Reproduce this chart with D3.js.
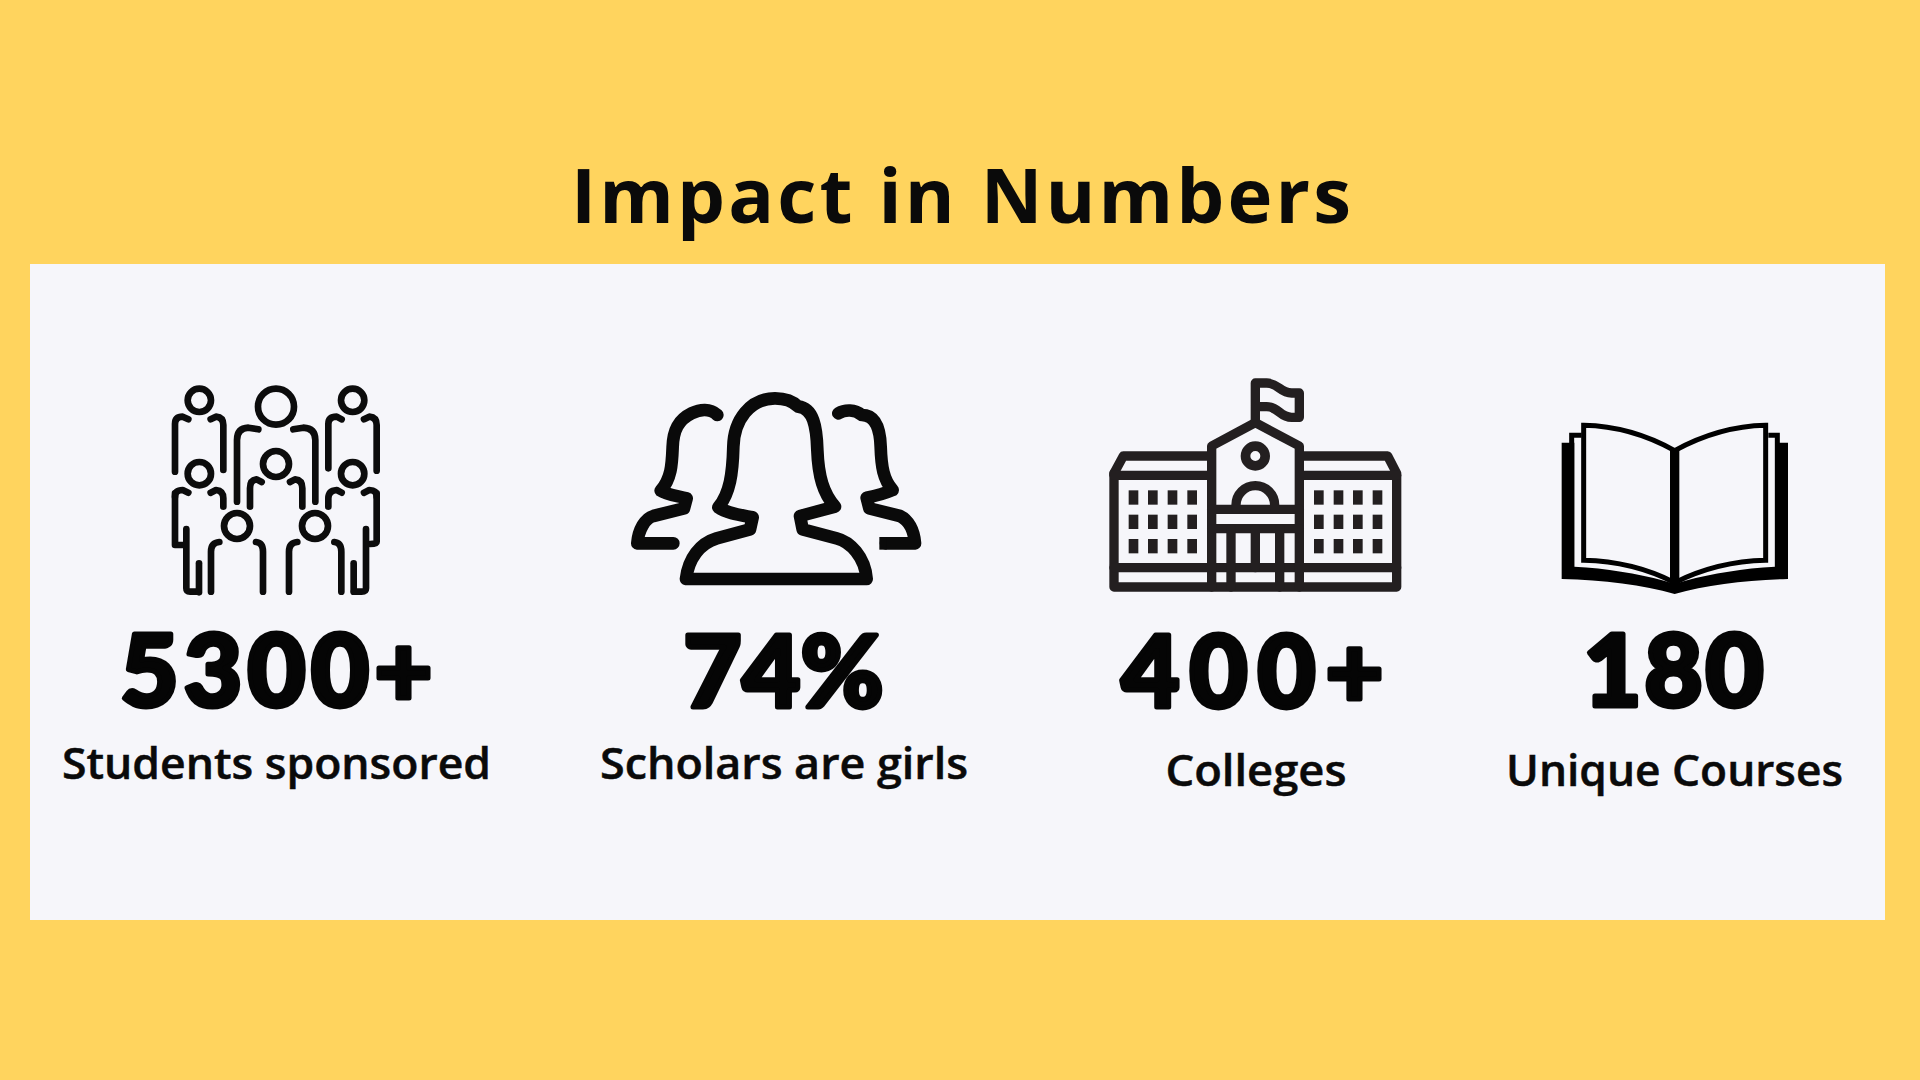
<!DOCTYPE html>
<html>
<head>
<meta charset="utf-8">
<script src="https://cdn.jsdelivr.net/npm/d3@7"></script>
<style>
  html, body { margin: 0; padding: 0; background: #ffd45e; }
  svg { display: block; }
</style>
</head>
<body>
<div id="vis"></div>
<script>
// chart content
const chartTitle = 'Impact in Numbers';
const categories = ['Students sponsored', 'Scholars are girls', 'Colleges', 'Unique Courses'];
const values = ['5300+', '74%', '400+', '180'];

// layout
const width = 1920, height = 1080;
const valueX = d3.scaleOrdinal(categories, [276.5, 783.5, 1252.5, 1673.5]);
const valueY = d3.scaleOrdinal(categories, [708, 709, 709, 708]);
const valueLen = d3.scaleOrdinal(categories, [312, 200, 262, 180]);
const labelX = d3.scaleOrdinal(categories, [276.5, 784, 1256, 1674.5]);
const labelY = d3.scaleOrdinal(categories, [779, 779, 786, 786]);
const labelLen = d3.scaleOrdinal(categories, [429, 368, 181, 337]);

const svg = d3.select('#vis')
  .append('svg')
  .attr('width', width)
  .attr('height', height)
  .attr('viewBox', [0, 0, width, height].join(' '));

svg.append('rect').attr('width', width).attr('height', height).attr('fill', '#ffd45e');
svg.append('rect').attr('x', 30).attr('y', 264).attr('width', 1855).attr('height', 656).attr('fill', '#f6f6fa');

svg.append('text')
  .attr('x', 961)
  .attr('y', 223)
  .attr('text-anchor', 'middle')
  .attr('font-family', 'Open Sans')
  .attr('font-weight', 700)
  .attr('font-size', 76)
  .attr('textLength', 780)
  .attr('lengthAdjust', 'spacing')
  .attr('fill', '#0a0a0a')
  .text(chartTitle);

svg.selectAll('text.value')
  .data(categories)
  .join('text')
  .attr('class', 'value')
  .attr('x', d => valueX(d))
  .attr('y', d => valueY(d) - 2)
  .attr('text-anchor', 'middle')
  .attr('font-family', 'Lato')
  .attr('font-weight', 900)
  .attr('font-size', 100)
  .attr('textLength', d => valueLen(d))
  .attr('lengthAdjust', 'spacing')
  .attr('fill', '#050505')
  .attr('stroke', '#050505')
  .attr('stroke-width', 5)
  .attr('stroke-linejoin', 'round')
  .text((d, i) => values[i]);

svg.selectAll('text.label')
  .data(categories)
  .join('text')
  .attr('class', 'label')
  .attr('x', d => labelX(d))
  .attr('y', d => labelY(d))
  .attr('text-anchor', 'middle')
  .attr('font-family', 'Open Sans')
  .attr('font-weight', 600)
  .attr('font-size', 44)
  .attr('textLength', d => labelLen(d))
  .attr('lengthAdjust', 'spacingAndGlyphs')
  .attr('fill', '#0a0a0a')
  .attr('stroke', '#0a0a0a')
  .attr('stroke-width', 0.5)
  .text(d => d);

// icons are drawn in the pixel space of a 3x crop, hence the scale(1/3)
function icon(x, y, color, sw) {
  return svg.append('g')
    .attr('transform', `translate(${x},${y}) scale(${1 / 3})`)
    .attr('fill', 'none')
    .attr('stroke', color)
    .attr('stroke-width', sw)
    .attr('stroke-linecap', 'round')
    .attr('stroke-linejoin', 'round');
}

// people
const heads = [[178, 121, 35], [408, 140, 54], [638, 121, 35], [408, 312, 39],
  [178, 341, 35], [638, 341, 35], [291, 498, 39], [525, 498, 39]];
const bodies = [
  'M105 335 V192 Q105 170 128 170 L145 178',
  'M250 330 V195 Q250 172 228 170 L212 178',
  'M565 325 V192 Q565 170 590 170 L605 178',
  'M710 332 V195 Q710 172 688 170 L672 178',
  'M291 425 V240 Q291 205 325 203 L355 208',
  'M526 425 V240 Q526 205 490 203 L460 208',
  'M330 440 V385 Q330 360 350 358 L365 366',
  'M487 440 V385 Q487 360 465 358 L450 366',
  'M105 400 V555 H130',
  'M105 410 Q105 390 128 390 L145 398',
  'M250 440 V415 Q250 392 228 390 L212 398',
  'M139 507 V685 Q139 695 150 695 H176',
  'M177 610 V697',
  'M565 440 V415 Q565 392 590 390 L605 398',
  'M710 410 Q710 390 688 390 L672 398',
  'M710 400 V545 Q710 552 690 552',
  'M678 507 V685 Q678 695 665 695 H642',
  'M641 610 V695',
  'M213 695 V575 Q213 548 238 546',
  'M369 695 V575 Q369 548 348 546',
  'M447 695 V575 Q447 548 472 546',
  'M604 695 V575 Q604 548 583 546'
];
const people = icon(140, 360, '#0c0c0c', 20);
people.selectAll('circle').data(heads).join('circle')
  .attr('cx', d => d[0]).attr('cy', d => d[1]).attr('r', d => d[2]);
people.selectAll('path').data(bodies).join('path').attr('d', d => d);

// girls
const girls = [
  'M228 627 H770 C765 560 720 515 680 505 L578 478 L570 438 L675 410 C640 370 625 320 622 240 C620 170 610 115 565 110 C545 90 520 85 495 85 C420 85 372 150 370 230 C368 310 360 370 325 412 C350 430 390 435 428 442 L420 478 L320 505 C270 520 235 565 228 627 Z',
  'M322 135 C300 115 270 118 245 130 C205 150 190 180 188 230 C186 280 185 325 152 362 C170 375 205 378 230 385 L222 415 L130 438 C105 445 85 480 82 520 H190',
  'M685 130 C705 118 735 118 755 135 C790 135 810 165 812 230 C814 290 820 330 848 360 C825 370 795 378 770 383 L778 415 L870 438 C895 450 912 480 915 520 H828'
];
const girlIcon = icon(610, 370, '#0a0a0a', 38);
girlIcon.selectAll('path').data(girls).join('path').attr('d', d => d);
girlIcon.append('path').attr('d', 'M830 520 H808').attr('stroke-linecap', 'butt');

// school
const school = icon(1090, 360, '#231f20', 28);
const schoolLines = [
  'M72 340 V681 H920 V340 L893 288 H642',
  'M72 340 L100 288 H352',
  'M72 346 H352', 'M642 346 H920',
  'M72 623 H920',
  'M365 681 V258 L496 188 L628 258 V681',
  'M496 188 V69 H530 C565 69 570 99 605 99 H628 V172 H605 C570 172 565 140 530 140 H496',
  'M365 448 H628', 'M365 506 H628',
  'M423 506 V681', 'M496 506 V623', 'M569 506 V681',
  'M438 448 V435 A58 58 0 0 1 554 435 V448'
];
school.selectAll('path').data(schoolLines).join('path').attr('d', d => d);
school.append('circle').attr('cx', 496).attr('cy', 288).attr('r', 29.5).attr('stroke-width', 29);
const windowX = [116, 174, 233, 292, 672, 731, 789, 848];
const windowY = [391, 464, 537];
school.selectAll('rect')
  .data(d3.cross(windowX, windowY))
  .join('rect')
  .attr('x', d => d[0]).attr('y', d => d[1])
  .attr('width', 29).attr('height', 43)
  .attr('stroke', 'none').attr('fill', '#231f20');

// book
const book = icon(1540, 400, '#000', 15);
book.append('path')
  .attr('fill', '#000').attr('stroke', 'none')
  .attr('d', 'M65 128 H103 V500 C200 505 290 520 372 542 L404 552 L436 542 C518 520 610 505 705 500 V128 H744 V537 C620 540 500 555 404 582 C310 555 190 540 65 537 Z');
book.append('path').attr('stroke-linejoin', 'miter').attr('stroke-linecap', 'butt').attr('d', 'M125 106 H95 V505');
book.append('path').attr('stroke-linejoin', 'miter').attr('stroke-linecap', 'butt').attr('d', 'M685 106 H712 V505');
book.append('path').attr('stroke-linejoin', 'miter')
  .attr('d', 'M131 76 C230 78 320 105 404 152 C490 105 580 78 677 76 V481 C580 483 490 505 404 548 C320 505 230 483 131 481 Z');
book.append('path').attr('stroke-width', 28).attr('stroke-linecap', 'butt').attr('d', 'M404 150 V570');
</script>
</body>
</html>
